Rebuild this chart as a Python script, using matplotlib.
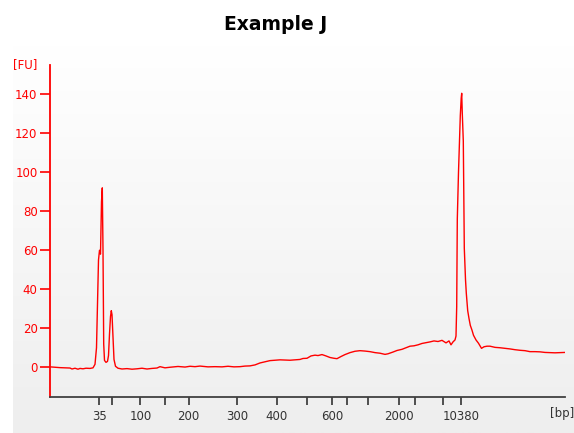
import numpy as np
import matplotlib
matplotlib.use('Agg')
import matplotlib.pyplot as plt
from matplotlib.colors import LinearSegmentedColormap

# ============================================================
# Data: electropherogram trace (migration time [s], signal [FU])
# ============================================================
time_s = [
    19.0, 19.5, 20.0, 20.5, 21.0, 21.2, 21.5, 21.8, 22.0, 22.3, 22.6, 23.0, 23.3,
    23.5, 23.65, 23.75, 23.85, 23.95, 24.05, 24.15, 24.23, 24.3, 24.37, 24.45,
    24.6, 24.75, 24.85, 24.95, 25.05, 25.13, 25.2, 25.3, 25.4, 25.55, 25.8,
    26.2, 26.7, 27.2, 27.7, 28.2, 28.7, 29.2, 29.7, 30.0, 30.5, 31.0, 31.8,
    32.5, 33.0, 33.5, 34.0, 34.8, 35.5, 36.2, 36.8, 37.4, 38.0, 38.5, 39.0,
    39.5, 40.0, 40.5, 41.0, 41.5, 42.0, 42.5, 43.0, 43.5, 44.0, 44.3, 44.7,
    45.1, 45.5, 45.8, 46.2, 46.6, 47.0, 47.4, 47.7, 48.1, 48.5, 49.0, 49.5,
    50.0, 50.5, 51.0, 51.5, 52.0, 52.5, 52.8, 53.3, 53.7, 54.2, 54.6, 55.0,
    55.4, 55.8, 56.2, 56.6, 57.0, 57.4, 57.8, 58.2, 58.6, 58.9, 59.1, 59.3,
    59.5, 59.6, 59.67, 59.73, 59.85, 59.95, 60.03, 60.12, 60.17, 60.23, 60.33,
    60.43, 60.55, 60.63, 60.77, 60.9, 61.03, 61.2, 61.35, 61.6, 61.85, 62.15,
    62.4, 62.7, 63.0, 63.5, 64.0, 64.5, 65.0, 65.5, 66.0, 66.5, 67.0, 67.5,
    68.0, 68.5, 69.0, 69.5, 70.0, 70.5,
]
signal_fu = [
    0.2, 0.0, -0.2, -0.3, -0.4, -0.9, -0.5, -1.0, -0.6, -0.8, -0.5, -0.6, -0.3,
    1.5, 10, 32, 55, 60, 58, 85, 92, 60, 12, 3.5,
    2.5, 3.0, 6, 17, 26, 29, 27, 15, 4, 0.5, -0.5,
    -0.9, -0.7, -1.0, -0.8, -0.5, -0.9, -0.6, -0.4, 0.3, -0.3, 0.0, 0.4,
    0.1, 0.5, 0.3, 0.6, 0.2, 0.3, 0.2, 0.5, 0.2, 0.3, 0.6, 0.7,
    1.2, 2.2, 2.8, 3.4, 3.6, 3.8, 3.7, 3.6, 3.8, 4.0, 4.5, 4.6,
    5.8, 6.2, 6.0, 6.5, 5.8, 5.0, 4.6, 4.4, 5.5, 6.5, 7.5, 8.2,
    8.5, 8.3, 8.0, 7.5, 7.2, 6.6, 6.9, 7.8, 8.6, 9.2, 10.0, 10.8,
    11.0, 11.5, 12.2, 12.6, 13.0, 13.5, 13.2, 13.8, 12.5, 13.5, 11.5, 13.0,
    14.0, 16, 31, 76, 100, 116, 129, 138, 140.5, 130, 116,
    61, 45, 38, 29, 25, 21.5, 19, 16.4, 14, 12.3, 9.7,
    10.5, 10.8, 10.8, 10.2, 10.0, 9.7, 9.4, 9.0, 8.7, 8.5, 8.0, 8.0,
    7.9, 7.6, 7.5, 7.4, 7.5, 7.6,
]

# size-ladder ticks (position in s, label in bp)
tick_pos = [23.93, 25.17, 28.03, 30.53, 32.87, 37.7, 41.7, 44.67, 47.2,
            48.67, 50.83, 53.93, 55.5, 58.27, 60.13]
tick_lab = ['35', '', '100', '', '200', '300', '400', '', '600',
            '', '', '2000', '', '', '10380']
y_ticks = [0, 20, 40, 60, 80, 100, 120, 140]

RED = '#ff0000'
DARK = '#333333'

# ============================================================
# Figure
# ============================================================
fig = plt.figure(figsize=(5.74, 4.33), dpi=100)

# gradient panel behind the plot
bg = fig.add_axes([13 / 574, 0, 1 - 13 / 574, 388 / 433], zorder=-1)
grad = np.linspace(0, 1, 256).reshape(-1, 1)
bg.imshow(grad, aspect='auto', extent=[0, 1, 0, 1],
          cmap=LinearSegmentedColormap.from_list('', ['#ffffff', '#eeeeee']))
bg.axis('off')

ax = fig.add_axes([50 / 574, 36.5 / 433, 515 / 574, 331.5 / 433])
ax.set_facecolor('none')
ax.plot(time_s, signal_fu, color=RED, lw=1.0)

ax.set_xlim(19.0, 70.5)
ax.set_ylim(-15, 155)

ax.set_yticks(y_ticks)
ax.tick_params(axis='y', colors=RED, length=7, width=1.2, labelsize=8.5, pad=2)
ax.set_xticks(tick_pos)
ax.set_xticklabels(tick_lab)
ax.tick_params(axis='x', colors=DARK, length=6, width=1.2, labelsize=8.5, pad=4)

for s in ['top', 'right']:
    ax.spines[s].set_visible(False)
ax.spines['left'].set_color(RED)
ax.spines['left'].set_linewidth(1.3)
ax.spines['bottom'].set_color('#404040')
ax.spines['bottom'].set_linewidth(1.3)

fig.text(13 / 574, 1 - 65 / 433, '[FU]', color=RED, fontsize=8.5, va='center', ha='left')
fig.text(1.0, 1 - 414 / 433, '[bp]', color=DARK, fontsize=8.5, va='center', ha='right')
fig.text(276 / 574, 1 - 25 / 433, 'Example J', fontsize=13.5, fontweight='bold',
         ha='center', va='center')

fig.savefig('out.png', dpi=100)
